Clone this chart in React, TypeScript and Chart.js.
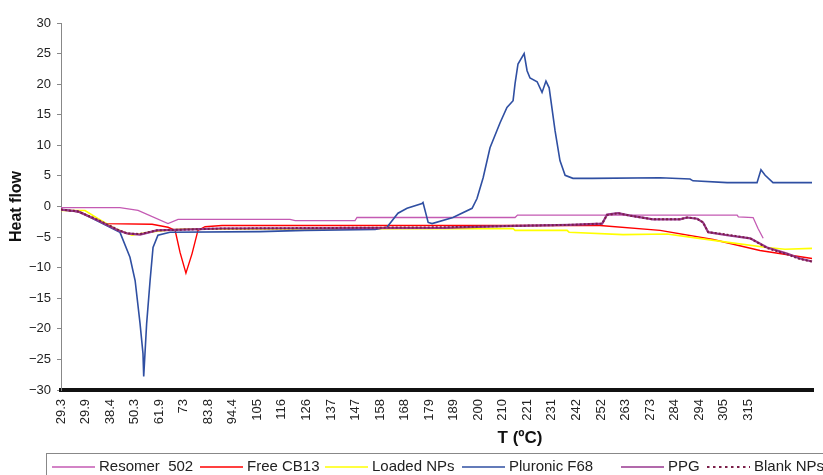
import { useEffect, useRef } from 'react';
import { Chart, registerables } from 'chart.js';

Chart.register(...registerables);

const FONT = '"Liberation Sans", Arial, Helvetica, sans-serif';

// Category tick labels of the temperature axis (T, °C)
const xTickLabels = ['29.3', '29.9', '38.4', '50.3', '61.9', '73', '83.8', '94.4', '105', '116', '126', '137', '147', '158', '168', '179', '189', '200', '210', '221', '231', '242', '252', '263', '273', '284', '294', '305', '315'];
// Axis extends past the last labelled category (in category-label units)
const xAxisMax = 30.64;

const seriesNames = ['Resomer  502', 'Free CB13', 'Loaded NPs', 'Pluronic F68', 'PPG', 'Blank NPs'];
const seriesColors = ['#C45AB3', '#FF0000', '#FFFF00', '#2F4FA2', '#98378F', '#7B1E48'];

// x = position along the category axis (label index units), y = heat flow
const resomerX = [0, 2.4, 3.14, 4.36, 4.77, 9.33, 9.54, 11.98, 12.06, 18.5, 18.6, 27.55, 27.6, 28.2, 28.4, 28.61];
const resomerY = [-0.2, -0.2, -0.65, -2.8, -2.1, -2.1, -2.3, -2.3, -1.8, -1.8, -1.4, -1.4, -1.7, -1.8, -3.6, -5.2];

const freeX = [0, 0.77, 1.79, 3.71, 4.36, 4.65, 4.85, 5.09, 5.34, 5.58, 5.87, 6.56, 21.96, 24.41, 26.57, 28.48, 30.6];
const freeY = [-0.5, -0.9, -2.8, -2.9, -3.4, -3.9, -7.5, -10.9, -7.7, -3.9, -3.3, -3.1, -3.1, -3.9, -5.4, -7.2, -8.5];

const loadedX = [0, 0.98, 1.51, 2.2, 2.89, 3.55, 4.24, 5.0, 18.42, 18.5, 20.62, 20.7, 22.9, 24.69, 25.63, 27.26, 28.77, 29.5, 30.6];
const loadedY = [-0.65, -0.65, -2.0, -3.6, -4.7, -4.2, -3.9, -3.7, -3.6, -3.9, -3.9, -4.2, -4.6, -4.5, -5.0, -5.9, -6.7, -7.0, -6.85];

const pluronicX = [0, 0.77, 1.51, 2.4, 2.81, 3.02, 3.22, 3.34, 3.37, 3.49, 3.63, 3.75, 3.95, 4.44, 8.11, 9.94, 12.8, 13.28, 13.73, 14.1, 14.71, 14.75, 14.96, 15.12, 15.97, 16.75, 16.95, 17.2, 17.48, 17.89, 18.17, 18.42, 18.5, 18.62, 18.87, 18.99, 19.11, 19.4, 19.6, 19.76, 19.89, 20.13, 20.33, 20.54, 20.86, 21.64, 24.41, 25.63, 25.75, 27.14, 28.36, 28.52, 28.69, 29.01, 30.6];
const pluronicY = [-0.5, -0.9, -2.4, -4.2, -8.3, -12.1, -19.1, -24.0, -27.8, -19.1, -12.1, -6.7, -4.7, -4.2, -4.1, -3.9, -3.75, -3.4, -1.1, -0.3, 0.5, 0.65, -2.6, -2.8, -1.8, -0.3, 1.3, 4.7, 9.6, 13.7, 16.2, 17.3, 20.1, 23.3, 25.0, 22.2, 21.0, 20.4, 18.65, 20.5, 19.4, 12.4, 7.5, 5.1, 4.6, 4.6, 4.7, 4.5, 4.2, 3.9, 3.9, 6.0, 5.1, 3.9, 3.9];

const ppgX = [0, 0.69, 1.51, 2.32, 2.69, 3.22, 3.91, 5.26, 6.56, 15.65, 18.0, 20.74, 22.05, 22.25, 22.7, 23.19, 24.12, 25.22, 25.51, 25.92, 26.16, 26.37, 27.14, 28.08, 28.77, 29.58, 30.11, 30.6];
const ppgY = [-0.5, -0.8, -2.3, -3.9, -4.4, -4.6, -3.9, -3.75, -3.6, -3.5, -3.2, -3.0, -2.8, -1.3, -1.1, -1.5, -2.1, -2.1, -1.8, -2.0, -2.6, -4.2, -4.7, -5.2, -6.7, -7.7, -8.5, -9.0];

const blankX = [0, 0.69, 1.51, 2.32, 2.69, 3.22, 3.91, 5.26, 6.56, 15.65, 18.0, 20.74, 22.05, 22.25, 22.7, 23.19, 24.12, 25.22, 25.51, 25.92, 26.16, 26.37, 27.14, 28.08, 28.77, 29.58, 30.11, 30.6];
const blankY = [-0.5, -0.8, -2.2, -3.8, -4.4, -4.5, -3.9, -3.75, -3.6, -3.4, -3.2, -3.0, -2.8, -1.4, -1.1, -1.5, -2.1, -2.1, -1.8, -2.0, -2.6, -4.2, -4.6, -5.2, -6.8, -7.8, -8.6, -9.0];

const yTickStep = 5;

const seriesXs = [resomerX, freeX, loadedX, pluronicX, ppgX, blankX];
const seriesYs = [resomerY, freeY, loadedY, pluronicY, ppgY, blankY];

// styling / layout (not data)
const lineWidths = [1.3, 1.4, 1.6, 1.6, 2.2, 2];
const lineDashes: number[][] = [[], [], [], [], [], [2, 2]];
const legendLineLeft = [52, 200, 325, 462, 621, 707];

function toPoints(xs: number[], ys: number[]) {
  return xs.map((x, i) => ({ x, y: ys[i] }));
}

export default function App() {
  const canvasRef = useRef<HTMLCanvasElement>(null);

  useEffect(() => {
    const chart = new Chart(canvasRef.current!, {
      type: 'line',
      data: {
        datasets: seriesNames.map((name, i) => ({
          label: name,
          data: toPoints(seriesXs[i], seriesYs[i]),
          borderColor: seriesColors[i],
          backgroundColor: seriesColors[i],
          borderWidth: lineWidths[i],
          borderDash: lineDashes[i],
          pointRadius: 0,
          tension: 0,
          fill: false,
          order: seriesNames.length - i,
        })),
      },
      options: {
        animation: false,
        responsive: true,
        maintainAspectRatio: false,
        plugins: {
          legend: { display: false },
          tooltip: { enabled: false },
        },
        layout: { padding: { top: 23, right: 10, left: 0, bottom: 0 } },
        scales: {
          x: {
            type: 'linear',
            min: 0,
            max: xAxisMax,
            afterBuildTicks: (scale: any) => {
              scale.ticks = xTickLabels.map((_, i) => ({ value: i }));
            },
            afterFit: (scale: any) => {
              scale.height = 85;
            },
            ticks: {
              autoSkip: false,
              minRotation: 90,
              maxRotation: 90,
              padding: 9,
              color: '#222',
              font: { family: FONT, size: 13 },
              callback: (v: any) => xTickLabels[v as number] ?? '',
            },
            grid: { display: false, drawTicks: false },
            border: { display: true, width: 4, color: '#111' },
          },
          y: {
            min: -30,
            max: 30,
            afterFit: (scale: any) => {
              scale.width = 61;
            },
            ticks: {
              stepSize: yTickStep,
              padding: 6,
              color: '#222',
              font: { family: FONT, size: 13 },
              callback: (v: any) => String(v).replace('-', '\u2212'),
            },
            grid: {
              display: true,
              drawOnChartArea: false,
              drawTicks: true,
              tickLength: 4,
              color: '#888',
            },
            border: { display: true, width: 1, color: '#888' },
            title: {
              display: true,
              text: 'Heat flow',
              color: '#111',
              font: { family: FONT, size: 16, weight: 'bold' },
              padding: { top: 7, bottom: 0 },
            },
          },
        },
      },
    } as any);
    return () => chart.destroy();
  }, []);

  return (
    <div style={{ position: 'absolute', left: 0, top: 0, width: 823, height: 475, overflow: 'hidden', background: '#fff', fontFamily: FONT }}>
      <div style={{ position: 'absolute', left: 0, top: 0, width: 823, height: 475 }}>
        <canvas ref={canvasRef} />
      </div>
      <div style={{ position: 'absolute', left: 420, top: 428, width: 200, textAlign: 'center', fontWeight: 'bold', fontSize: 17, lineHeight: '20px', color: '#111' }}>
        T (ºC)
      </div>
      <div style={{ position: 'absolute', left: 46, top: 453, width: 900, height: 60, border: '1px solid #888', boxSizing: 'border-box' }} />
      {seriesNames.map((name, i) => (
        <div key={name} style={{ position: 'absolute', left: legendLineLeft[i], top: 457, height: 17, display: 'flex', alignItems: 'center', whiteSpace: 'pre', fontSize: 15, lineHeight: '17px', color: '#222' }}>
          <svg width={43} height={6} style={{ display: 'block', marginRight: 4, marginTop: 3 }}>
            <line x1={0} y1={3} x2={43} y2={3} stroke={seriesColors[i]} strokeWidth={i === 5 ? 2 : 1.6} strokeDasharray={i === 5 ? '2.5,3.5' : undefined} />
          </svg>
          <span>{name}</span>
        </div>
      ))}
    </div>
  );
}
